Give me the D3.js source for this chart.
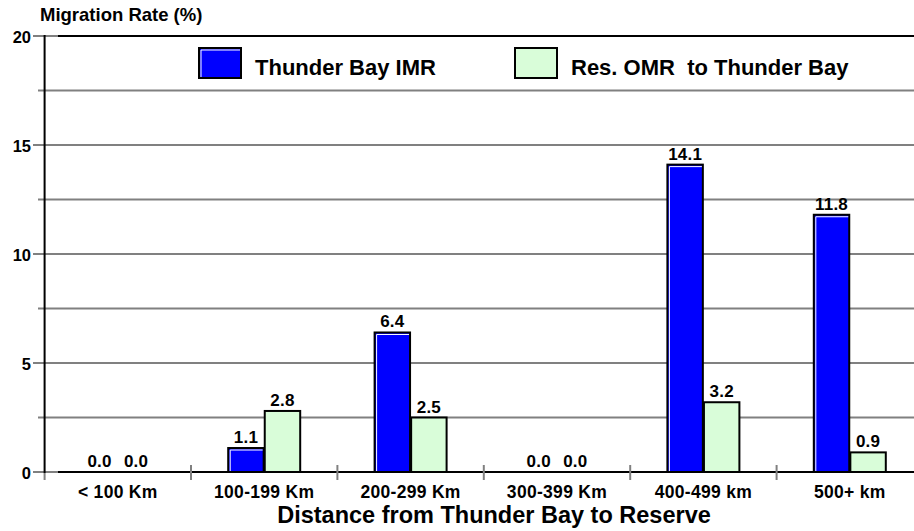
<!DOCTYPE html>
<html>
<head>
    <meta charset="utf-8">
    <script src="https://d3js.org/d3.v7.min.js"></script>
    <style>
        html, body { margin: 0; padding: 0; background: #fff; }
        text { font-family: "Liberation Sans", Arial, sans-serif; font-weight: bold; fill: #000; }
    </style>
</head>
<body>
<script>
    // chart data
    const categories = ["< 100 Km", "100-199 Km", "200-299 Km", "300-399 Km", "400-499 km", "500+ km"];
    const seriesNames = ["Thunder Bay IMR", "Res. OMR  to Thunder Bay"];
    const imrValues = [0.0, 1.1, 6.4, 0.0, 14.1, 11.8];
    const omrValues = [0.0, 2.8, 2.5, 0.0, 3.2, 0.9];
    const yTicks = [0, 5, 10, 15, 20];
    const yGrid = [2.5, 5, 7.5, 10, 12.5, 15, 17.5];

    const colors = ["#0000ff", "#d9fdd9"];
    const width = 914, height = 531;

    const svg = d3.select("body").append("svg")
        .attr("width", width)
        .attr("height", height);

    const y = d3.scaleLinear().domain([0, 20]).range([472, 36]);
    const x = d3.scaleBand().domain(categories).range([44.6, 923]).padding(0);
    const x1 = d3.scaleBand().domain(seriesNames).range([-36, 36]).paddingInner(0.03);

    // gridlines
    svg.selectAll(".grid")
        .data(yGrid)
        .enter().append("line")
        .attr("x1", d => d % 5 === 0 ? 33 : 38)
        .attr("x2", width)
        .attr("y1", d => y(d))
        .attr("y2", d => y(d))
        .style("stroke", "#808080")
        .style("stroke-width", 2);

    // top border and tick stubs for 0 and 20
    [0, 20].forEach(function (v) {
        svg.append("line")
            .attr("x1", 33).attr("x2", 58)
            .attr("y1", y(v)).attr("y2", y(v))
            .style("stroke", "#808080").style("stroke-width", 2);
        svg.append("line")
            .attr("x1", 58).attr("x2", width)
            .attr("y1", y(v)).attr("y2", y(v))
            .style("stroke", "#000").style("stroke-width", 2);
    });

    // x tick marks between categories
    svg.selectAll(".xtick")
        .data(categories.slice(1))
        .enter().append("line")
        .attr("x1", d => x(d)).attr("x2", d => x(d))
        .attr("y1", 465).attr("y2", 480)
        .style("stroke", "#808080").style("stroke-width", 2);
    svg.append("line")
        .attr("x1", 44.6).attr("x2", 44.6)
        .attr("y1", 472).attr("y2", 480)
        .style("stroke", "#808080").style("stroke-width", 2);

    // y axis line
    svg.append("line")
        .attr("x1", 44.6).attr("x2", 44.6)
        .attr("y1", y(20) - 1).attr("y2", y(0) + 1)
        .style("stroke", "#000").style("stroke-width", 2);

    // y tick labels
    svg.selectAll(".ylab")
        .data(yTicks)
        .enter().append("text")
        .attr("x", 31)
        .attr("y", d => y(d) + 6.5)
        .attr("text-anchor", "end")
        .style("font-size", "16.5px")
        .text(d => d);

    // bars
    const rows = categories.map((c, i) => ({ cat: c, vals: [imrValues[i], omrValues[i]] }));
    const group = svg.selectAll(".grp")
        .data(rows)
        .enter().append("g")
        .attr("transform", d => "translate(" + (x(d.cat) + x.bandwidth() / 2) + ",0)");

    group.each(function (d) {
        const g = d3.select(this);
        d.vals.forEach(function (v, k) {
            const bx = x1(seriesNames[k]);
            const bw = x1.bandwidth();
            if (v > 0) {
                g.append("rect")
                    .attr("x", bx).attr("y", y(v))
                    .attr("width", bw).attr("height", y(0) - y(v))
                    .style("fill", colors[k])
                    .style("stroke", "#000").style("stroke-width", 2);
                if (k === 0) {
                    g.append("polyline")
                        .attr("points", [[bx + 2, y(0) - 1], [bx + 2, y(v) + 2], [bx + bw - 1, y(v) + 2]].join(" "))
                        .style("fill", "none").style("stroke", "#fff").style("stroke-width", 1);
                }
            }
            g.append("text")
                .attr("x", bx + bw / 2)
                .attr("y", y(v) - 5)
                .attr("text-anchor", "middle")
                .style("font-size", "17px")
                .style("letter-spacing", "0.2px")
                .text(v.toFixed(1));
        });
    });

    // x category labels
    svg.selectAll(".xlab")
        .data(categories)
        .enter().append("text")
        .attr("x", d => x(d) + x.bandwidth() / 2)
        .attr("y", 498)
        .attr("text-anchor", "middle")
        .style("font-size", "17.5px")
        .style("letter-spacing", "0.3px")
        .text(d => d);

    // axis titles
    svg.append("text")
        .attr("x", 494).attr("y", 523)
        .attr("text-anchor", "middle")
        .style("font-size", "23.5px")
        .text("Distance from Thunder Bay to Reserve");
    svg.append("text")
        .attr("x", 40).attr("y", 21)
        .style("font-size", "18.5px")
        .text("Migration Rate (%)");

    // legend
    const legendX = [199, 515];
    seriesNames.forEach(function (name, k) {
        svg.append("rect")
            .attr("x", legendX[k]).attr("y", 48)
            .attr("width", 42).attr("height", 30)
            .style("fill", colors[k])
            .style("stroke", "#000").style("stroke-width", 2);
        if (k === 0) {
            svg.append("polyline")
                .attr("points", [[legendX[k] + 2, 77], [legendX[k] + 2, 50], [legendX[k] + 41, 50]].join(" "))
                .style("fill", "none").style("stroke", "#fff").style("stroke-width", 1);
        }
        svg.append("text")
            .attr("x", legendX[k] + 56).attr("y", 75)
            .style("font-size", "22px")
            .attr("xml:space", "preserve")
            .text(name);
    });
</script>
</body>
</html>
